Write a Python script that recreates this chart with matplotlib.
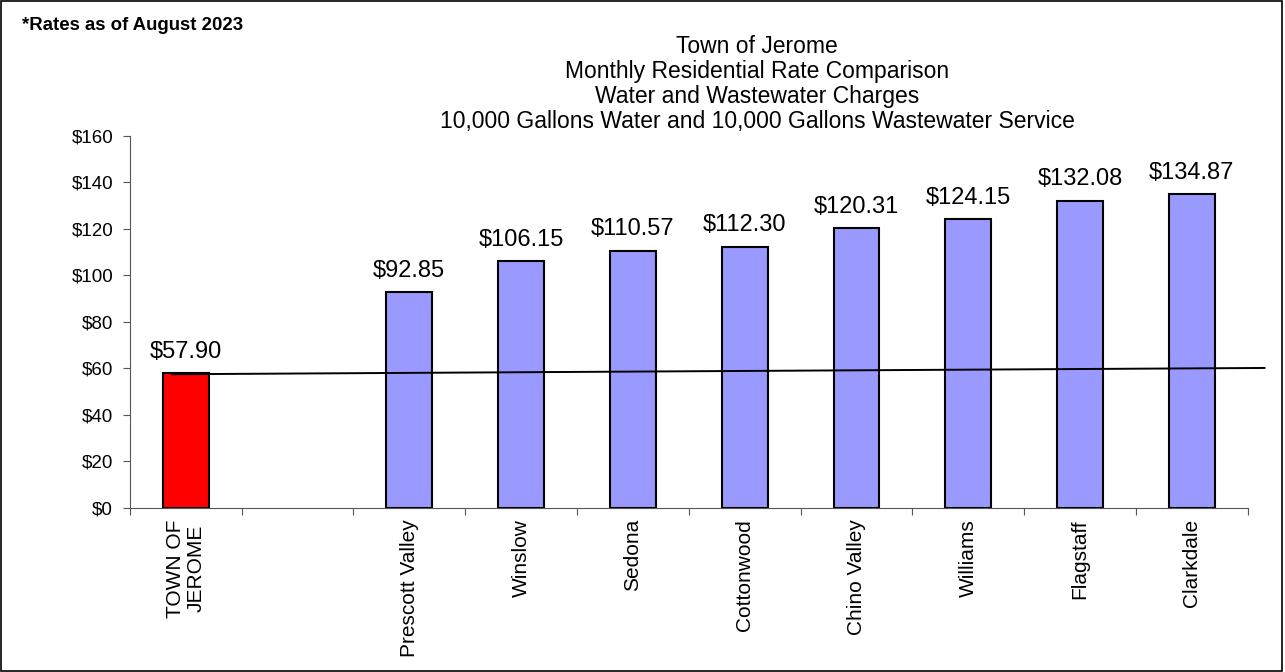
import matplotlib
matplotlib.use("Agg")
import matplotlib.pyplot as plt
from matplotlib.patches import Rectangle

plt.rcParams['font.family'] = ['Liberation Sans', 'DejaVu Sans']

categories = ["TOWN OF\nJEROME", "", "Prescott Valley", "Winslow", "Sedona", "Cottonwood",
              "Chino Valley", "Williams", "Flagstaff", "Clarkdale"]
values = [57.90, None, 92.85, 106.15, 110.57, 112.30, 120.31, 124.15, 132.08, 134.87]
colors = ["#FF0000", None] + ["#9999FF"] * 8
line_x = [-0.12, 9.65]
line_y = [57.5, 60.2]
yticks = [0, 20, 40, 60, 80, 100, 120, 140, 160]

fig = plt.figure(figsize=(12.85, 6.72), dpi=100)
ax = fig.add_axes([0.101, 0.244, 0.870, 0.554])

for i, (v, c) in enumerate(zip(values, colors)):
    if v is None:
        continue
    ax.bar(i, v, width=0.41, color=c, edgecolor="black", linewidth=1.5, zorder=2)
    ax.annotate(f"${v:,.2f}", xy=(i, v), xytext=(0, 11), textcoords="offset points",
                ha="center", va="baseline", fontsize=17)

ax.plot(line_x, line_y, color="black", linewidth=1.4, clip_on=False, zorder=3)

ax.set_xlim(-0.5, len(categories) - 0.5)
ax.set_ylim(0, 160)
ax.set_yticks(yticks)
ax.set_yticklabels([f"${t}" for t in yticks], fontsize=13.5)
ax.set_xticks([i + 0.5 for i in range(-1, len(categories))])
ax.set_xticklabels([])
ax.set_xticks(range(len(categories)), minor=True)
ax.set_xticklabels(categories, minor=True, rotation=90, fontsize=15, va="top", ha="center",
                   multialignment="center", linespacing=1.1)
ax.tick_params(axis="x", which="minor", length=0, pad=8)
ax.tick_params(axis="x", which="major", length=5, direction="out", color="#555555")
ax.tick_params(axis="y", length=5, direction="out", color="#555555", pad=7)
ax.spines["top"].set_visible(False)
ax.spines["right"].set_visible(False)
ax.spines["left"].set_color("#555555")
ax.spines["bottom"].set_color("#555555")

fig.text(757 / 1285, 1 - 84 / 672,
         "Town of Jerome\nMonthly Residential Rate Comparison\nWater and Wastewater Charges\n10,000 Gallons Water and 10,000 Gallons Wastewater Service",
         ha="center", va="center", fontsize=16.5, linespacing=1.1)
fig.text(22 / 1285, 1 - 25 / 672, "*Rates as of August 2023", fontsize=13.4, fontweight="bold",
         ha="left", va="center")

fig.patches.append(Rectangle((0.001, 0.001), 0.997, 0.997, transform=fig.transFigure,
                             fill=False, edgecolor="black", linewidth=1.2))

fig.savefig("out.png", dpi=100)
